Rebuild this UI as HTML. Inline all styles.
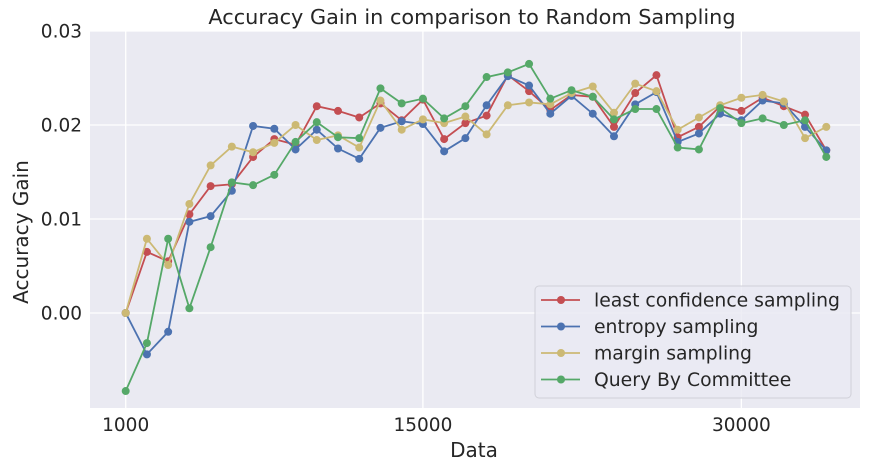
<!DOCTYPE html>
<html><head><meta charset="utf-8"><style>
body{margin:0;background:#fff;}
svg{display:block;font-family:"DejaVu Sans","Liberation Sans",sans-serif;}
</style></head><body>
<svg id="chart" width="870" height="466" viewBox="0 0 870 466" xmlns="http://www.w3.org/2000/svg">
<rect x="90" y="31" width="770" height="377" fill="#eaeaf2"/>
<g id="grid"></g>
<g id="series"></g>
<text x="472" y="24" font-size="20.8" text-anchor="middle" fill="#262626">Accuracy Gain in comparison to Random Sampling</text>
<text x="474" y="457" font-size="20" text-anchor="middle" fill="#262626">Data</text>
<text x="0" y="0" font-size="20" text-anchor="middle" fill="#262626" transform="translate(28,232) rotate(-90)">Accuracy Gain</text>
<g id="ticks"></g>
<g id="legend"></g>
</svg>
<script>
const xTickIdx = [0, 14, 29];
const xTickLabels = ["1000", "15000", "30000"];
const yTicks = [0.00, 0.01, 0.02, 0.03];
const yTickLabels = ["0.00", "0.01", "0.02", "0.03"];
const seriesNames = ["least confidence sampling", "entropy sampling", "margin sampling", "Query By Committee"];
const seriesColors = ["#c44e52", "#4c72b0", "#ccb974", "#55a868"];
const leastConf = [0,6.5,5.5,10.5,13.5,13.7,16.6,18.5,17.9,22.0,21.5,20.8,22.3,20.5,22.7,18.5,20.2,21.0,25.3,23.6,21.6,23.2,23.0,19.8,23.4,25.3,18.7,19.8,22.0,21.5,22.9,22.0,21.1,17.3];
const entropy = [0,-4.4,-2.0,9.7,10.3,13.0,19.9,19.6,17.4,19.5,17.5,16.4,19.7,20.4,20.1,17.2,18.6,22.1,25.2,24.2,21.2,23.1,21.2,18.8,22.2,23.5,18.2,19.1,21.2,20.5,22.6,22.3,19.8,17.3];
const margin = [0,7.9,5.1,11.6,15.7,17.7,17.1,18.1,20.0,18.4,18.9,17.6,22.6,19.5,20.6,20.2,20.9,19.0,22.1,22.4,22.2,23.4,24.1,21.3,24.4,23.6,19.5,20.8,22.1,22.9,23.2,22.5,18.6,19.8];
const qbc = [-8.3,-3.2,7.9,0.5,7.0,13.9,13.6,14.7,18.2,20.3,18.7,18.6,23.9,22.3,22.8,20.7,22.0,25.1,25.6,26.5,22.8,23.7,23.0,20.6,21.7,21.7,17.6,17.4,21.8,20.2,20.7,20.0,20.5,16.6];
const allSeries = [leastConf, entropy, margin, qbc];

const NS = "http://www.w3.org/2000/svg";
const x = i => 125.7 + 21.23 * i;
const y = v => 313 - v * 9400;
function mk(tag, attrs, parent){const e=document.createElementNS(NS,tag);for(const k in attrs)e.setAttribute(k,attrs[k]);parent.appendChild(e);return e;}
const grid=document.getElementById('grid'), ticks=document.getElementById('ticks'), ser=document.getElementById('series'), leg=document.getElementById('legend');
yTicks.forEach((v,k)=>{
  const l=mk('line',{x1:90,x2:860,y1:y(v),y2:y(v),stroke:'#fff','stroke-width':1.3},grid);
  
  
  const t=mk('text',{x:82,y:y(v)+6.5,'font-size':18.5,'text-anchor':'end',fill:'#262626'},ticks);
  t.textContent=yTickLabels[k];
  
  
});
xTickIdx.forEach((i,k)=>{
  const l=mk('line',{x1:x(i),x2:x(i),y1:31,y2:408,stroke:'#fff','stroke-width':1.3},grid);
  
  
  const t=mk('text',{x:x(i),y:431,'font-size':18.5,'text-anchor':'middle',fill:'#262626'},ticks);
  t.textContent=xTickLabels[k];
  
  
});
allSeries.forEach((s,si)=>{
  const g=mk('g',{},ser);
  
  
  const p=mk('polyline',{points:s.map((v,i)=>x(i)+','+y(v/1000)).join(' '),fill:'none',stroke:seriesColors[si],'stroke-width':1.8},g);
  
  
  s.forEach((v,i)=>{
    const c=mk('circle',{cx:x(i),cy:y(v/1000),r:4,fill:seriesColors[si]},g);
    
    
  });
});
const box=mk('rect',{x:535,y:286,width:316,height:112,rx:4,fill:'#eaeaf2','fill-opacity':0.8,stroke:'#d0d0d8'},leg);


seriesNames.forEach((n,k)=>{
  const yy=300+26.5*k;
  const g=mk('g',{},leg);
  
  
  mk('line',{x1:541,x2:580,y1:yy,y2:yy,stroke:seriesColors[k],'stroke-width':1.8},g);
  mk('circle',{cx:561,cy:yy,r:4,fill:seriesColors[k]},g);
  const t=mk('text',{x:594,y:yy+6.5,'font-size':18.8,fill:'#262626'},g);
  t.textContent=n;
});
</script>
</body></html>
